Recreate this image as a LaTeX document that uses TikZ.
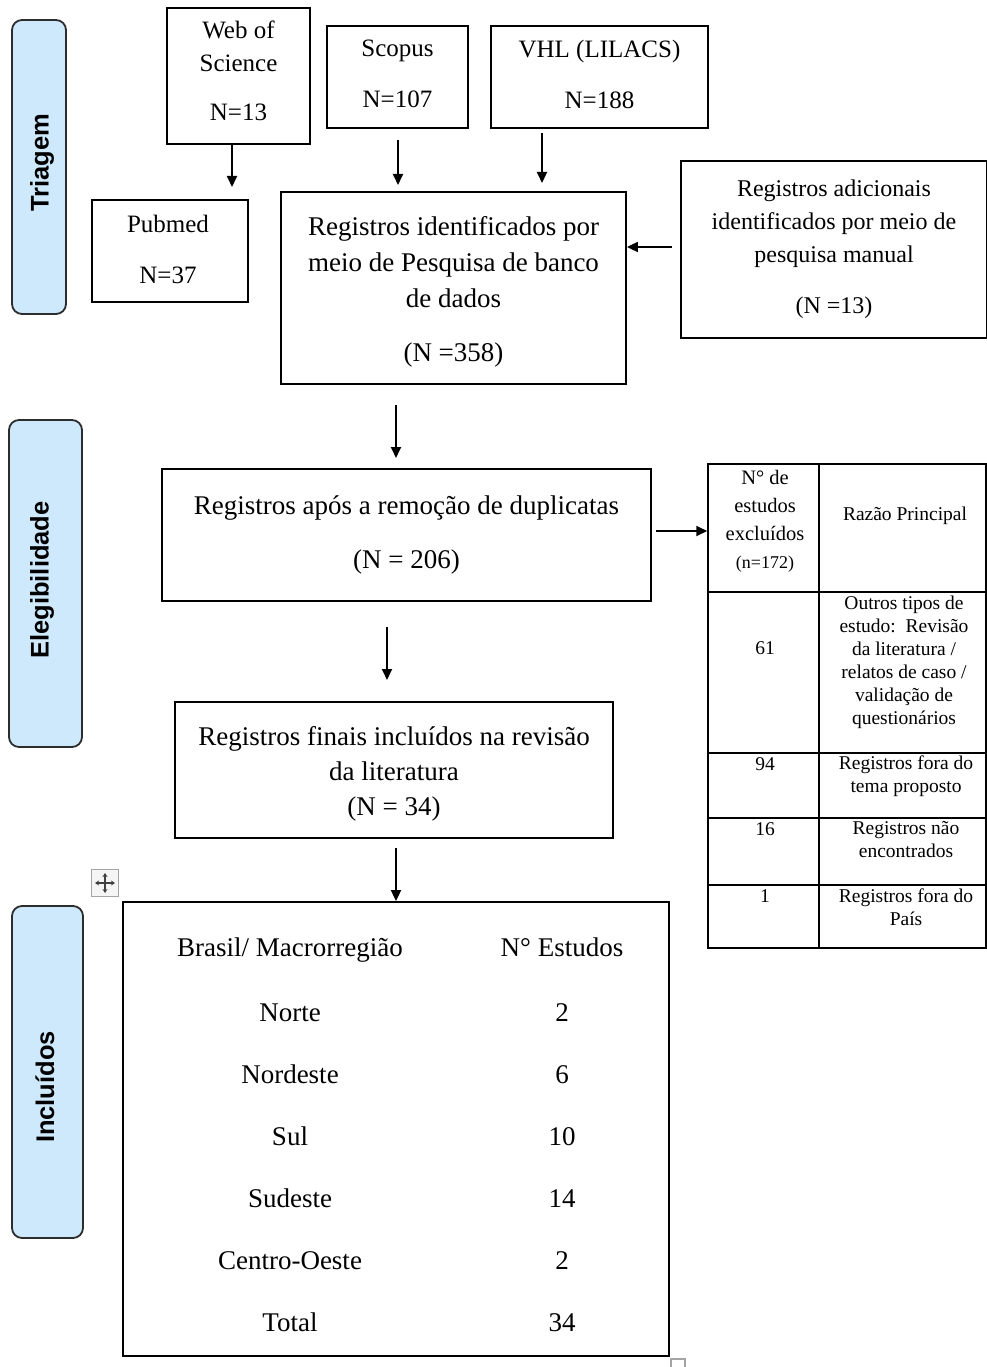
\documentclass[tikz,border=0pt]{standalone}
\usepackage{fontspec}
\setmainfont{Liberation Serif}
\newfontfamily\sidefont{Liberation Sans}
\usetikzlibrary{arrows.meta,calc}
\definecolor{sideblue}{RGB}{205,233,251}
\definecolor{sideline}{RGB}{45,45,45}
\definecolor{handlegray}{RGB}{165,165,165}
\begin{document}
\begin{tikzpicture}[x=1pt,y=-1pt,
  box/.style={draw=black,line width=1.8pt,inner sep=0pt,align=center},
  txt/.style={inner sep=0pt,align=center},
  side/.style={draw=sideline,line width=1.8pt,rounded corners=10pt,fill=sideblue,inner sep=0pt},
  sidelabel/.style={font=\sidefont\bfseries\fontsize{25.5}{30}\selectfont,rotate=90,inner sep=0pt},
  arr/.style={line width=1.8pt,-{Triangle[length=11pt,width=10pt]}},
  fsmall/.style={font=\fontsize{25}{33}\selectfont},
  fbig/.style={font=\fontsize{27}{36}\selectfont},
  ftab/.style={font=\fontsize{19.5}{23}\selectfont,align=center,inner sep=0pt},
  ftabrow/.style={font=\fontsize{27}{32}\selectfont,inner sep=0pt,text height=19pt,text depth=6pt},
  grid/.style={line width=1.5pt}
]
\useasboundingbox (0,0) rectangle (987,1367);

% side bars
\node[side,minimum width=54pt,minimum height=294pt] (tri) at (39,167) {};
\node[sidelabel] (trit) at (42,163) {Triagem};
\node[side,minimum width=73pt,minimum height=327pt] (ele) at (45.5,583.5) {};
\node[sidelabel] (elet) at (42,580) {Elegibilidade};
\node[side,minimum width=71pt,minimum height=332pt] (inc) at (47.5,1072) {};
\node[sidelabel] (inct) at (45,1087) {Incluídos};

% top sources
\node[box,minimum width=143pt,minimum height=136pt] (wos) at (238.5,76) {};
\node[txt,fsmall] (wost) at ($(wos)+(0,-5)$) {Web of\\Science\\[16pt]N=13};
\node[box,minimum width=141pt,minimum height=102pt] (sco) at (397.5,77) {};
\node[txt,fsmall] (scot) at ($(sco)+(0,-3)$) {Scopus\\[18pt]N=107};
\node[box,minimum width=217pt,minimum height=102pt] (vhl) at (599.5,77) {};
\node[txt,fsmall] (vhlt) at ($(vhl)+(0,-3)$) {VHL (LILACS)\\[18pt]N=188};
\node[box,minimum width=156pt,minimum height=102pt] (pub) at (170,251) {};
\node[txt,fsmall] (pubt) at ($(pub)+(-2,-2)$) {Pubmed\\[18pt]N=37};

\node[box,minimum width=345pt,minimum height=192pt] (ide) at (453.5,288) {};
\node[txt,fbig] (idet) at ($(ide)+(0,4)$)
  {Registros identificados por\\meio de Pesquisa de banco\\de dados\\[18pt](N =358)};
\node[box,font=\fontsize{24}{33}\selectfont,minimum width=306pt,minimum height=177pt] (adi) at (834,249.5)
  {Registros adicionais\\identificados por meio de\\pesquisa manual\\[18pt](N =13)};

\node[box,fbig,minimum width=489pt,minimum height=132pt] (apo) at (406.5,535)
  {Registros após a remoção de duplicatas\\[18pt](N = 206)};
\node[box,minimum width=438pt,minimum height=136pt] (fin) at (394,770) {};
\node[txt,font=\fontsize{27}{35}\selectfont] (fint) at ($(fin)+(0,4)$)
  {Registros finais incluídos na revisão\\da literatura\\(N = 34)};

% exclusion table
\node[draw=black,line width=1.5pt,inner sep=0pt,minimum width=278pt,minimum height=484pt] (exc) at (847,706) {};
\draw[grid] (819,464) -- (819,948);
\draw[grid] (708,592) -- (986,592);
\draw[grid] (708,753) -- (986,753);
\draw[grid] (708,818) -- (986,818);
\draw[grid] (708,885) -- (986,885);
\node[ftab,font=\fontsize{20.5}{28}\selectfont] (h1) at (765,521) {N° de\\estudos\\excluídos\\{\fontsize{18}{28}\selectfont(n=172)}};
\node[ftab] (h2) at (905,516) {Razão Principal};
\node[ftab] (r1a) at (765,648) {61};
\node[ftab] (r1b) at (904,662) {Outros tipos de\\estudo:\ \ Revisão\\da literatura /\\relatos de caso /\\validação de\\questionários};
\node[ftab] (r2a) at (765,764) {94};
\node[ftab] (r2b) at (906,776) {Registros fora do\\tema proposto};
\node[ftab] (r3a) at (765,829) {16};
\node[ftab] (r3b) at (906,840) {Registros não\\encontrados};
\node[ftab] (r4a) at (765,896) {1};
\node[ftab] (r4b) at (906,907) {Registros fora do\\País};

% big included table
\node[draw=black,line width=1.8pt,inner sep=0pt,minimum width=546pt,minimum height=454pt] (big) at (396,1129) {};
\node[ftabrow] (c0a) at (290,950) {Brasil/ Macrorregião};
\node[ftabrow] (c0b) at (562,950) {N° Estudos};
\node[ftabrow] (c1a) at (290,1015) {Norte};
\node[ftabrow] (c1b) at (562,1015) {2};
\node[ftabrow] (c2a) at (290,1077) {Nordeste};
\node[ftabrow] (c2b) at (562,1077) {6};
\node[ftabrow] (c3a) at (290,1139) {Sul};
\node[ftabrow] (c3b) at (562,1139) {10};
\node[ftabrow] (c4a) at (290,1201) {Sudeste};
\node[ftabrow] (c4b) at (562,1201) {14};
\node[ftabrow] (c5a) at (290,1263) {Centro-Oeste};
\node[ftabrow] (c5b) at (562,1263) {2};
\node[ftabrow] (c6a) at (290,1325) {Total};
\node[ftabrow] (c6b) at (562,1325) {34};

% word handles
\node[draw=handlegray,fill=black!4,line width=1.2pt,minimum size=27pt,inner sep=0pt] (mv) at (105,883) {};
\draw[line width=1.1pt,black!75,{Stealth[length=4pt,width=5pt]}-{Stealth[length=4pt,width=5pt]}] ($(mv.center)+(-10,0)$) -- ($(mv.center)+(10,0)$);
\draw[line width=1.1pt,black!75,{Stealth[length=4pt,width=5pt]}-{Stealth[length=4pt,width=5pt]}] ($(mv.center)+(0,-10)$) -- ($(mv.center)+(0,10)$);
\node[draw=handlegray,line width=1.2pt,minimum size=14pt,inner sep=0pt] (rs) at (678,1366) {};

% connectors
\coordinate (a1) at (232,187);
\draw[arr] (wos.south -| a1) -- (a1);
\coordinate (a2s) at (398,140); \coordinate (a2) at (398,185);
\draw[arr] (a2s) -- (a2);
\coordinate (a3s) at (542,133); \coordinate (a3) at (542,183);
\draw[arr] (a3s) -- (a3);
\coordinate (a4) at (672,247);
\draw[arr] (a4) -- (ide.east |- a4);
\coordinate (a5s) at (396,405); \coordinate (a5) at (396,458);
\draw[arr] (a5s) -- (a5);
\coordinate (a6) at (656,531);
\draw[arr] (a6) -- (exc.west |- a6);
\coordinate (a7s) at (387,627); \coordinate (a7) at (387,680);
\draw[arr] (a7s) -- (a7);
\coordinate (a8) at (396,848);
\draw[arr] (a8) -- (a8 |- big.north);
\end{tikzpicture}
\end{document}
